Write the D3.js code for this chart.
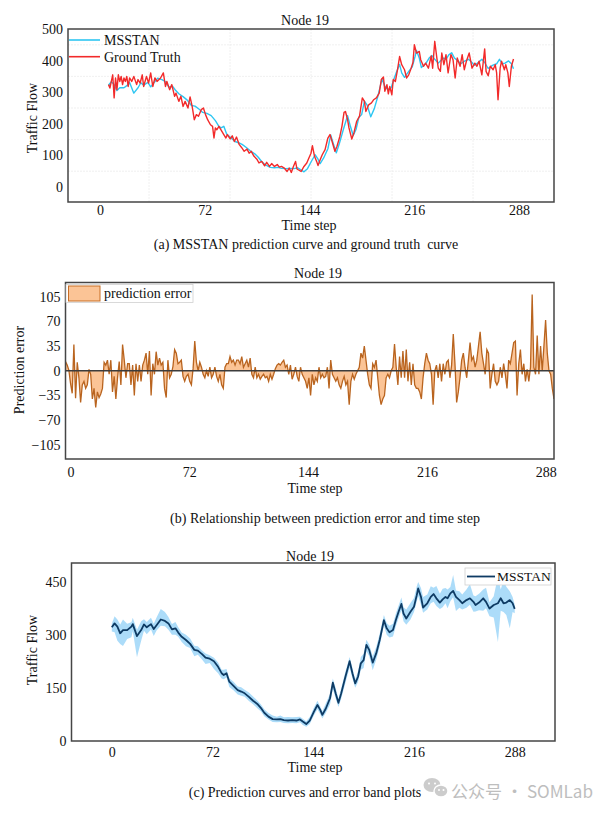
<!DOCTYPE html>
<html>
<head>
<meta charset="utf-8">
<script src="https://cdn.jsdelivr.net/npm/d3@7"></script>
<style>
	body { margin: 0; background: #fff; }
	svg { display: block; }
	text { font-family: "Times New Roman", "Liberation Serif", serif; fill: #111; }
</style>
</head>
<body>
<svg id="fig" width="614" height="814"></svg>
<script>
// ---- data ----
var stepTicks = [0, 72, 144, 216, 288];
var flowTicksA = [0, 100, 200, 300, 400, 500];
var flowGridA = [50, 150, 250, 350, 450];
var stepGridA = [28.8, 86.4, 144, 201.6, 259.2];
var errorTicks = [-105, -70, -35, 0, 35, 70, 105];
var flowTicksC = [0, 150, 300, 450];

// MSSTAN prediction (panel a cyan, panel c line)
var predSteps = [0, 2, 4, 6, 8, 11, 14, 15, 18, 21, 23, 25, 28, 30, 32, 35, 38, 40.5, 43, 45.5,
	47.5, 50, 53, 56, 59, 61.5, 64.5, 67, 70, 73, 76, 78.5, 80, 82, 84, 87, 90, 92.5, 95, 98,
	101, 104, 106.5, 109, 112, 115, 118, 120.5, 123, 126, 129, 132, 134.5, 136.5, 139, 141.5, 144.5, 147, 149, 150.5,
	153, 156, 158, 160, 162, 164, 167, 170, 172, 174, 176, 178, 180, 182, 184, 186.5, 189, 191.5, 194.5, 196.5,
	198.5, 201, 203, 205, 207, 208.5, 210.5, 213.5, 216, 218, 219, 221, 222.5, 225.5, 228, 230, 232, 234.5, 236.5, 238.5,
	240, 242, 244, 246, 248.5, 250.5, 253.5, 256, 258.5, 260, 262.5, 265.5, 267.5, 270, 273, 276, 278, 280, 282, 284.5,
	286.5, 288];
var predFlow = [322, 333, 324, 305, 314, 314, 324, 331, 297, 314, 330, 322, 331, 317, 328, 344, 340, 333, 316, 319,
	307, 295, 286, 275, 258, 256, 246, 236, 233, 226, 210, 192, 187, 192, 168, 156, 144, 140, 135, 125,
	114, 105, 94, 80, 69, 62, 61, 62, 59, 58, 59, 58, 61, 55, 48, 58, 83, 102, 88, 74,
	92, 121, 165, 135, 108, 135, 182, 226, 192, 163, 182, 220, 229, 272, 258, 222, 248, 286, 342, 319,
	308, 314, 342, 366, 388, 361, 347, 366, 380, 413, 432, 408, 378, 390, 408, 416, 404, 392, 401, 408,
	404, 418, 425, 408, 399, 390, 399, 404, 394, 385, 392, 404, 394, 375, 385, 390, 404, 390, 392, 399,
	390, 374];
// error band (panel c): distance below / above the prediction
var bandBelow = [12, 25, 40, 30, 45, 25, 30, 20, 60, 30, 18, 20, 15, 20, 15, 18, 15, 18, 15, 18,
	12, 15, 18, 12, 18, 12, 15, 18, 12, 22, 18, 15, 12, 12, 15, 12, 12, 12, 10, 12,
	10, 12, 10, 10, 8, 8, 8, 8, 8, 8, 8, 8, 8, 10, 8, 10, 10, 12, 12, 10,
	12, 18, 18, 15, 12, 15, 18, 18, 15, 12, 15, 18, 22, 18, 18, 22, 18, 18, 15, 18,
	15, 18, 18, 18, 18, 22, 18, 22, 15, 18, 22, 22, 15, 18, 18, 22, 22, 18, 22, 18,
	28, 22, 18, 40, 22, 18, 22, 18, 28, 18, 22, 35, 18, 22, 35, 110, 35, 25, 35, 80,
	25, 12];
var bandAbove = [10, 20, 20, 25, 30, 18, 12, 18, 18, 25, 15, 15, 18, 15, 22, 30, 25, 18, 15, 18,
	15, 12, 15, 15, 12, 12, 10, 12, 10, 10, 12, 10, 15, 12, 10, 12, 10, 12, 10, 12,
	12, 10, 10, 10, 10, 10, 8, 10, 8, 10, 8, 10, 8, 8, 8, 10, 12, 12, 10, 10,
	15, 12, 12, 15, 12, 15, 15, 12, 15, 12, 15, 18, 18, 15, 15, 18, 18, 18, 15, 15,
	18, 18, 18, 18, 18, 18, 25, 25, 25, 25, 18, 25, 30, 25, 30, 18, 35, 25, 30, 25,
	25, 18, 45, 18, 25, 25, 30, 40, 18, 25, 25, 25, 40, 18, 25, 75, 25, 65, 45, 25,
	18, 12];

// ground truth (panel a red)
var truthSteps = [0, 1, 2, 3, 4, 5, 6, 7, 8, 9, 10, 11, 12, 13, 14, 15, 16.5, 18, 20, 21,
	22.5, 24, 25, 27, 28.5, 30, 31.5, 33, 34.5, 37, 39, 40.5, 41.5, 43.5, 45, 47, 48, 50, 51.5, 53,
	54.5, 56.5, 58, 59.5, 61, 62.5, 64, 66, 67.5, 69, 70.5, 72.5, 74, 75, 76, 77, 78.5, 80, 82, 83.5,
	84.5, 86.5, 88, 89.5, 91, 93, 94.5, 96.5, 98.5, 100, 101.5, 103.5, 105.5, 107, 109, 111, 112.5, 114.5, 116, 118,
	120, 121.5, 123, 125, 127, 128.5, 130, 131.5, 133, 134, 137, 139, 141, 142.5, 144, 145, 146.5, 148, 149, 150.5,
	152, 154, 156, 157.5, 159, 161, 162.5, 164.5, 166, 167.5, 168.5, 170, 171, 173, 174.5, 176.5, 178.5, 180.5, 182, 183,
	185, 187, 188.5, 190.5, 192.5, 194, 195.5, 196.5, 198, 199, 200, 201.5, 202.5, 204, 205.5, 207, 208.5, 210.5, 212, 213.5,
	215, 216.5, 217.5, 219, 221, 222, 224, 225.5, 227.5, 229.5, 230.5, 232, 233.5, 234.5, 236, 237, 238.5, 240, 241.5, 243.5,
	245, 246.5, 248, 250, 251.5, 253, 254.5, 256.5, 258.5, 260.5, 262, 263.5, 265.5, 267.5, 268.5, 270, 271.5, 273.5, 275, 276,
	277, 278.5, 279.5, 281.5, 282.5, 284, 285, 286.5, 288];
var truthFlow = [324, 313, 334, 355, 282, 345, 308, 355, 334, 350, 324, 345, 334, 350, 318, 345, 334, 350, 324, 340,
	329, 355, 318, 350, 329, 361, 318, 345, 334, 345, 361, 318, 334, 308, 324, 287, 297, 271, 287, 255,
	271, 250, 285, 255, 213, 229, 224, 245, 250, 229, 213, 197, 192, 155, 187, 181, 192, 181, 166, 155,
	166, 152, 162, 144, 158, 134, 126, 113, 120, 107, 113, 97, 88, 76, 81, 67, 78, 65, 74, 65,
	71, 63, 65, 60, 49, 60, 46, 65, 81, 57, 49, 65, 76, 92, 107, 131, 97, 81, 68, 86,
	102, 118, 155, 166, 144, 113, 129, 160, 192, 236, 239, 213, 187, 152, 171, 208, 224, 282, 271, 239,
	260, 266, 276, 282, 297, 340, 348, 303, 324, 295, 318, 292, 340, 334, 371, 413, 387, 371, 345, 355,
	373, 394, 450, 424, 429, 403, 382, 392, 376, 415, 376, 461, 408, 376, 366, 424, 387, 419, 361, 419,
	403, 345, 408, 382, 419, 371, 398, 424, 376, 392, 382, 398, 355, 437, 366, 352, 382, 371, 387, 361,
	276, 376, 398, 371, 387, 361, 318, 382, 405];

// prediction error (panel b), one value per step from errorFirst to errorLast
var errorFirst = -3, errorLast = 293;
var predError = [13, 8, 1, -18, -32, 37, -39, 12, -10, -45, -20, -15, -25, -20, 2, -5, -40, -25, -52, -30,
	-38, -33, -25, 12, 8, 15, -5, 15, -30, -8, -40, -10, 13, -20, 37, 15, -10, 10, 10, -20,
	8, -35, 10, -15, 8, -15, 8, 15, 25, -5, 28, -35, 10, -5, 27, 8, 18, 8, 12, -25,
	-38, 15, -10, -5, 6, 30, 25, 10, 12, 15, -8, -15, -8, -5, -15, -20, 3, 42, 12, 0,
	12, 5, -5, -10, 0, -8, 5, -10, -5, 5, -8, -15, -5, -20, -25, 5, 10, 10, 20, 12,
	15, 8, 15, 15, 10, 20, 5, 10, 15, 5, 18, -5, -10, 5, -10, -5, -12, -8, -5, -10,
	-8, -15, -5, -12, -5, 3, 8, 10, 8, 12, 15, 5, 8, -5, 8, -12, -5, 5, -8, -15,
	5, -5, -10, -15,
	-25, -10, -35, -5, -20, -10, -15, 5, -10, -5, -10, -8, 5, -25, 15, -5, -10, -15, -10, -20,
	-25, -15, -8, -20, -15, -48, -15, -5, -12, -5, 0, 5, 25, 18, 35, 15, -5, -20, -25, 10,
	5, 15, -10, -35, -48, -40, -35, -10, -5, -10, 0, 5, 38, 5, -20, 20, -10, 28, -10, 30,
	-15, 12, -20, 10, -20, -25, -25, -30, -40, -10, 10, 25, 15, 10, -5, -48, 0, 8, -10, 10,
	-15, 10, -5, 12, 15, -10, 8, 52, 10, -45, -30, -10, 15, 25, 5, -10, 15, 40, 15, 20,
	5, 15, 35, 55, 25, 10, -5, 30, 25, -25, -5, 10, -15, -20, -15, 5, -10, 10, -5, -25,
	15, 10, 25, 40, 42, -35, 10, 30, -5, 10, -15, 2, -15, 5, 108, 5, -5, 50, -5, 35,
	0, 35, 72, 25, 0, -5, -25, -40];

// ---- layout ----
var serif = '"Times New Roman", "Liberation Serif", serif';
var svg = d3.select("#fig");

var boxA = { left: 68, right: 554, top: 29, bottom: 202 };
var boxB = { left: 65.5, right: 554, top: 282.5, bottom: 459 };
var boxC = { left: 71.5, right: 555, top: 563, bottom: 741 };

function clipFor(id, box) {
	svg.append("clipPath").attr("id", id)
		.append("rect")
		.attr("x", box.left).attr("y", box.top)
		.attr("width", box.right - box.left).attr("height", box.bottom - box.top);
	return "url(#" + id + ")";
}

function styleTicks(g) {
	g.select(".domain").remove();
	g.attr("font-size", 14).attr("font-family", serif);
	g.selectAll("text").style("font-family", serif).style("font-size", "14px").style("fill", "#111");
}

function bottomAxis(x, box, pad) {
	svg.append("g")
		.attr("transform", "translate(0," + box.bottom + ")")
		.call(d3.axisBottom(x).tickValues(stepTicks).tickSize(0).tickPadding(pad).tickFormat(d3.format("d")))
		.call(styleTicks);
}

function leftAxis(y, box, ticks) {
	svg.append("g")
		.attr("transform", "translate(" + box.left + ",0)")
		.call(d3.axisLeft(y).tickValues(ticks).tickSize(0).tickPadding(5).tickFormat(d3.format("d")))
		.call(styleTicks);
}

function frame(box) {
	svg.append("rect")
		.attr("x", box.left).attr("y", box.top)
		.attr("width", box.right - box.left).attr("height", box.bottom - box.top)
		.attr("fill", "none").attr("stroke", "#454545").attr("stroke-width", 1.5);
}

function label(txt, x, y, size, rotate) {
	svg.append("text")
		.attr("transform", "translate(" + x + "," + y + ")" + (rotate ? " rotate(-90)" : ""))
		.attr("text-anchor", "middle").attr("dy", "0.35em")
		.attr("font-size", size)
		.style("white-space", "pre")
		.text(txt);
}

// ---- (a) prediction vs ground truth ----
var xA = d3.scaleLinear().domain([-28.8, 316.8]).range([boxA.left, boxA.right]);
var xLabA = d3.scaleLinear().domain([-22, 312]).range([boxA.left, boxA.right]);
var yA = d3.scaleLinear().domain([-47.5, 500]).range([boxA.bottom, boxA.top]);

svg.append("g").selectAll("line").data(stepGridA).enter().append("line")
	.attr("x1", function (d) { return xA(d); }).attr("x2", function (d) { return xA(d); })
	.attr("y1", boxA.top).attr("y2", boxA.bottom)
	.attr("stroke", "#ececec").attr("stroke-width", 0.8).attr("stroke-dasharray", "2,1");
svg.append("g").selectAll("line").data(flowGridA).enter().append("line")
	.attr("x1", boxA.left).attr("x2", boxA.right)
	.attr("y1", function (d) { return yA(d); }).attr("y2", function (d) { return yA(d); })
	.attr("stroke", "#ececec").attr("stroke-width", 0.8).attr("stroke-dasharray", "2,1");

var clipA = clipFor("clipA", boxA);
var lineA = d3.line().x(function (d) { return xA(d[0]); }).y(function (d) { return yA(d[1]); });
svg.append("path").datum(d3.zip(predSteps, predFlow)).attr("clip-path", clipA)
	.attr("d", lineA).attr("fill", "none").attr("stroke", "#2ec6f2").attr("stroke-width", 1.4)
	.attr("stroke-linejoin", "round");
svg.append("path").datum(d3.zip(truthSteps, truthFlow)).attr("clip-path", clipA)
	.attr("d", lineA).attr("fill", "none").attr("stroke", "#f22a2a").attr("stroke-width", 1.4)
	.attr("stroke-linejoin", "round");

frame(boxA);
bottomAxis(xLabA, boxA, 3);
leftAxis(yA, boxA, flowTicksA);

// legend (a)
var legA = [{ name: "MSSTAN", color: "#2ec6f2" }, { name: "Ground Truth", color: "#f22a2a" }];
legA.forEach(function (d, i) {
	var ly = 40 + i * 16.7;
	svg.append("line").attr("x1", 69).attr("x2", 100).attr("y1", ly).attr("y2", ly)
		.attr("stroke", d.color).attr("stroke-width", 1.6);
	svg.append("text").attr("x", 104).attr("y", ly).attr("dy", "0.35em")
		.attr("font-size", 14).text(d.name);
});

label("Node 19", 305, 20.5, 14);
label("Time step", 309, 225.5, 14);
label("Traffic Flow", 32, 118, 14, true);
label("(a) MSSTAN prediction curve and ground truth  curve", 306, 244, 14);

// ---- (b) prediction error ----
var xB = d3.scaleLinear().domain([errorFirst, errorLast]).range([boxB.left, boxB.right]);
var yB = d3.scaleLinear().domain([-125, 125]).range([boxB.bottom, boxB.top]);
var errStep = (errorLast - errorFirst) / (predError.length - 1);
var clipB = clipFor("clipB", boxB);

var areaB = d3.area()
	.x(function (d, i) { return xB(errorFirst + i * errStep); })
	.y0(yB(0))
	.y1(function (d) { return yB(d); });
var lineB = d3.line()
	.x(function (d, i) { return xB(errorFirst + i * errStep); })
	.y(function (d) { return yB(d); });

svg.append("path").datum(predError).attr("clip-path", clipB)
	.attr("d", areaB).attr("fill", "#fbc496");
svg.append("path").datum(predError).attr("clip-path", clipB)
	.attr("d", lineB).attr("fill", "none").attr("stroke", "#b9641f").attr("stroke-width", 1.3);
svg.append("line")
	.attr("x1", boxB.left).attr("x2", boxB.right).attr("y1", yB(0)).attr("y2", yB(0))
	.attr("stroke", "#3c3c3c").attr("stroke-width", 1.5);

frame(boxB);
bottomAxis(xB, boxB, 8);
leftAxis(yB, boxB, errorTicks);

// legend (b)
svg.append("rect").attr("x", 66).attr("y", 284.5).attr("width", 127).attr("height", 18)
	.attr("fill", "#fff").attr("stroke", "#d0d0d0").attr("stroke-width", 0.8);
svg.append("rect").attr("x", 68.5).attr("y", 286).attr("width", 31.5).attr("height", 15)
	.attr("fill", "#fbc496").attr("stroke", "#c86e25").attr("stroke-width", 1);
svg.append("text").attr("x", 104).attr("y", 293.5).attr("dy", "0.35em")
	.attr("font-size", 14).text("prediction error");

label("Node 19", 318, 273, 14);
label("Time step", 315, 488, 14);
label("Prediction error", 19.5, 370, 14, true);
label("(b) Relationship between prediction error and time step", 325, 518, 14);

// ---- (c) prediction with error band ----
var xC = d3.scaleLinear().domain([-28.8, 316.8]).range([boxC.left, boxC.right]);
var yC = d3.scaleLinear().domain([0, 504]).range([boxC.bottom, boxC.top]);
var clipC = clipFor("clipC", boxC);

var bandC = d3.area()
	.x(function (d, i) { return xC(predSteps[i]); })
	.y0(function (d, i) { return yC(d - bandBelow[i]); })
	.y1(function (d, i) { return yC(d + bandAbove[i]); });
var lineC = d3.line()
	.x(function (d, i) { return xC(predSteps[i]); })
	.y(function (d) { return yC(d); });

svg.append("path").datum(predFlow).attr("clip-path", clipC)
	.attr("d", bandC).attr("fill", "#a3d8f8").attr("opacity", 0.9);
svg.append("path").datum(predFlow).attr("clip-path", clipC)
	.attr("d", lineC).attr("fill", "none").attr("stroke", "#0e3b64").attr("stroke-width", 1.8)
	.attr("stroke-linejoin", "round");

frame(boxC);
bottomAxis(xC, boxC, 6);
leftAxis(yC, boxC, flowTicksC);

// legend (c)
svg.append("rect").attr("x", 465).attr("y", 568).attr("width", 86).attr("height", 17)
	.attr("fill", "#fff").attr("stroke", "#d0d0d0").attr("stroke-width", 0.8);
svg.append("line").attr("x1", 467).attr("x2", 495).attr("y1", 576.5).attr("y2", 576.5)
	.attr("stroke", "#0e3b64").attr("stroke-width", 1.8);
svg.append("text").attr("x", 497).attr("y", 576.5).attr("dy", "0.35em")
	.attr("font-size", 13.5).text("MSSTAN");

label("Node 19", 310, 556, 14);
label("Time step", 315, 767, 14);
label("Traffic Flow", 32, 650, 14, true);
label("(c) Prediction curves and error band plots", 305, 792, 14);

// ---- watermark ----
var wm = svg.append("g").attr("opacity", 0.85);
wm.append("ellipse").attr("cx", 432).attr("cy", 785).attr("rx", 8.5).attr("ry", 7).attr("fill", "#c4c4c4");
wm.append("ellipse").attr("cx", 441).attr("cy", 791).attr("rx", 7).attr("ry", 6)
	.attr("fill", "#c4c4c4").attr("stroke", "#fff").attr("stroke-width", 1.4);
[[429, 783.5], [435, 783.5], [439, 790], [443.5, 790]].forEach(function (p) {
	wm.append("circle").attr("cx", p[0]).attr("cy", p[1]).attr("r", 1).attr("fill", "#fff");
});
wm.append("text").attr("x", 451).attr("y", 792).attr("dy", "0.35em")
	.attr("textLength", 142).attr("lengthAdjust", "spacingAndGlyphs")
	.style("font-family", '"Noto Sans CJK SC", "Noto Sans", sans-serif')
	.style("fill", "#b3b3b3")
	.attr("font-size", 17).text("公众号 · SOMLab");
</script>
</body>
</html>
